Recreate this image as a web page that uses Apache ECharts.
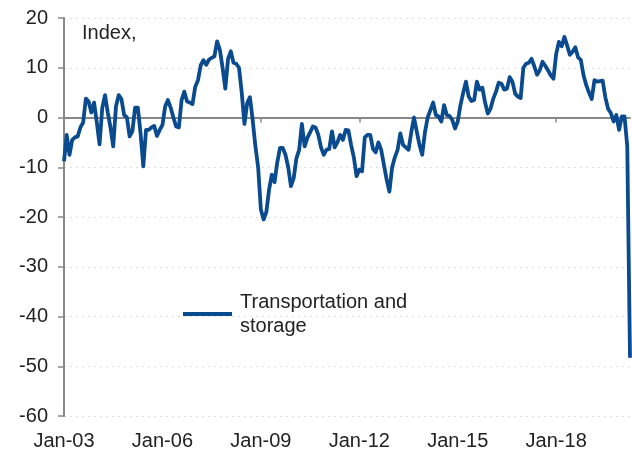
<!DOCTYPE html>
<html>
<head>
<meta charset="utf-8">
<script src="https://cdn.jsdelivr.net/npm/echarts@6/dist/echarts.min.js"></script>
<style>html,body{margin:0;padding:0;background:#fff}#c{width:632px;height:459px}</style>
</head>
<body>
<div id="c"></div>
<script>
// Monthly index values, Jan-2003 .. Apr-2020
var v2003 = [-8.8,-3.5,-7.5,-4.5,-4,-3.8,-2,-1,3.8,3.2,1,3];
var v2004 = [-1,-5.4,2,4.5,1,-2,-5.8,2.2,4.5,3.7,0.5,0];
var v2005 = [-3.8,-2.8,2,2,-3.2,-9.8,-2.5,-2.5,-2,-1.7,-3.7,-2.5];
var v2006 = [-1.5,2.2,3.5,2,0,-1.8,-2,3.5,5.2,3.2,3,2.7];
var v2007 = [6.2,7.5,10.5,11.5,10.6,11.6,12,12.3,15.3,13.6,10,5.8];
var v2008 = [11.8,13.3,11,10.8,10,5,-1.3,2.9,4.1,-0.5,-5.8,-10];
var v2009 = [-18.5,-20.5,-19,-14.5,-11.5,-13,-9,-6.1,-6.1,-7.5,-10,-13.8];
var v2010 = [-12.2,-8.2,-6.5,-1.3,-5.8,-4.1,-3,-1.8,-2,-3.5,-6,-7.5];
var v2011 = [-6.5,-6.3,-2.8,-6,-5,-3.5,-4.5,-2.5,-2.6,-5.5,-8,-11.8];
var v2012 = [-10.5,-10.8,-4,-3.5,-3.5,-6.3,-7,-5,-6.5,-9.5,-12.5,-14.9];
var v2013 = [-10,-8,-6.5,-3.2,-5.5,-6,-6.5,-3,0,-2.8,-5.5,-7.5];
var v2014 = [-3,0,1.5,3,0.5,0.2,-0.8,2.5,0.5,0.3,-0.5,-2.2];
var v2015 = [-0.8,2.5,5,7.2,4.2,3.3,3.5,7.2,5.6,6,3,0.8];
var v2016 = [1.8,3.8,5.2,7,6.8,5.6,5.8,8.1,7.2,4.8,4.2,3.9];
var v2017 = [10,10.8,11,11.8,10.3,8.6,9.5,11.2,10.4,9.5,8.5,7.8];
var v2018 = [12.8,15.2,14.3,16.2,14.5,12.6,13.2,14.1,12.1,11.6,8.5,6.5];
var v2019 = [5,3.7,7.5,7.2,7.3,7.4,4,1.7,0.9,-0.8,0.5,-2.5];
var v2020 = [0.2,0.2,-5.8,-48.3];

var seriesName = 'Transportation and storage';
var yTicks = [-60,-50,-40,-30,-20,-10,0,10,20];
var monthNames = ['Jan','Feb','Mar','Apr','May','Jun','Jul','Aug','Sep','Oct','Nov','Dec'];

var values = [].concat(v2003,v2004,v2005,v2006,v2007,v2008,v2009,v2010,v2011,v2012,v2013,v2014,v2015,v2016,v2017,v2018,v2019,v2020);
var categories = [];
for (var i = 0; i < values.length; i++) {
  var yy = 3 + Math.floor(i / 12);
  categories.push(monthNames[i % 12] + '-' + (yy < 10 ? '0' + yy : '' + yy));
}

var FONT = 'Liberation Sans';
var chart = echarts.init(document.getElementById('c'), null, {renderer: 'canvas'});
chart.setOption({
  animation: false,
  backgroundColor: '#ffffff',
  grid: {left: 64, right: 2, top: 18, bottom: 43, containLabel: false},
  xAxis: [{
    type: 'category',
    data: categories,
    boundaryGap: false,
    axisLine: {onZero: true, lineStyle: {color: '#888888', width: 2}},
    axisTick: {show: true, interval: 35, length: 5, lineStyle: {color: '#888888', width: 1.5}},
    axisLabel: {show: false},
    splitLine: {show: false}
  }, {
    type: 'category',
    data: categories,
    boundaryGap: false,
    position: 'bottom',
    axisLine: {show: false, onZero: false},
    axisTick: {show: false},
    axisLabel: {show: true, interval: 35, margin: 15, color: '#222222', fontFamily: FONT, fontSize: 20},
    splitLine: {show: false}
  }],
  yAxis: {
    type: 'value',
    min: yTicks[0],
    max: yTicks[yTicks.length - 1],
    interval: 10,
    axisLine: {show: true, lineStyle: {color: '#888888', width: 2}},
    axisTick: {show: true, length: 6, lineStyle: {color: '#888888', width: 1.5}},
    axisLabel: {margin: 16, color: '#222222', fontFamily: FONT, fontSize: 20},
    splitLine: {show: true, lineStyle: {color: '#dddddd', type: [2, 4], width: 1}}
  },
  legend: {
    show: true,
    left: 183,
    top: 278,
    padding: 0,
    itemWidth: 49,
    itemHeight: 4,
    itemGap: 8,
    icon: 'rect',
    data: [seriesName],
    formatter: function () { return 'Transportation and\nstorage'; },
    textStyle: {fontFamily: FONT, fontSize: 20, color: '#222222', lineHeight: 24, padding: [24, 0, 0, 3]}
  },
  graphic: [{
    type: 'text',
    left: 82,
    top: 23,
    style: {text: 'Index,', fontFamily: FONT, fontSize: 20, fill: '#222222'}
  }],
  series: [{
    name: seriesName,
    type: 'line',
    xAxisIndex: 0,
    data: values,
    showSymbol: false,
    symbol: 'none',
    lineStyle: {color: '#0a4a8f', width: 3.8, join: 'round'},
    itemStyle: {color: '#0a4a8f'}
  }]
});
</script>
</body>
</html>
